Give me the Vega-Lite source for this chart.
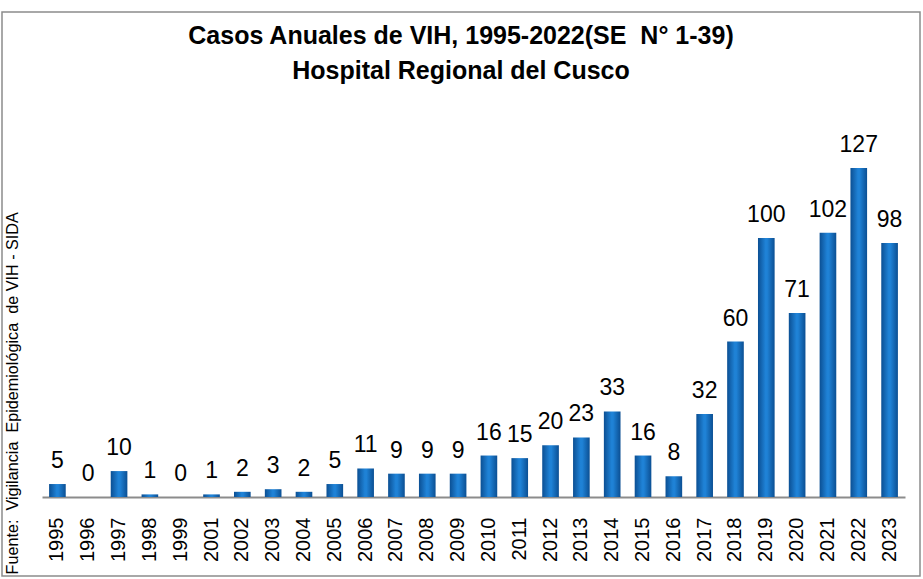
{
  "$schema": "https://vega.github.io/schema/vega-lite/v6.json",
  "width": 918,
  "height": 564,
  "autosize": {"type": "none"},
  "padding": {"left": 2, "top": 12, "right": 3, "bottom": 3},
  "background": "white",
  "title": {
    "text": ["Casos Anuales de VIH, 1995-2022(SE\u00a0 N° 1-39)", "Hospital Regional del Cusco"],
    "font": "Liberation Sans",
    "fontSize": 25,
    "fontWeight": "bold",
    "color": "#000000",
    "anchor": "middle",
    "frame": "group",
    "offset": -72,
    "lineHeight": 35
  },
  "config": {
    "view": {"stroke": "#8c8c8c", "strokeWidth": 1.5}
  },
  "data": {
    "values": [
      {"year": "1995", "cases": 5},
      {"year": "1996", "cases": 0},
      {"year": "1997", "cases": 10},
      {"year": "1998", "cases": 1},
      {"year": "1999", "cases": 0},
      {"year": "2001", "cases": 1},
      {"year": "2002", "cases": 2},
      {"year": "2003", "cases": 3},
      {"year": "2004", "cases": 2},
      {"year": "2005", "cases": 5},
      {"year": "2006", "cases": 11},
      {"year": "2007", "cases": 9},
      {"year": "2008", "cases": 9},
      {"year": "2009", "cases": 9},
      {"year": "2010", "cases": 16},
      {"year": "2011", "cases": 15},
      {"year": "2012", "cases": 20},
      {"year": "2013", "cases": 23},
      {"year": "2014", "cases": 33},
      {"year": "2015", "cases": 16},
      {"year": "2016", "cases": 8},
      {"year": "2017", "cases": 32},
      {"year": "2018", "cases": 60},
      {"year": "2019", "cases": 100},
      {"year": "2020", "cases": 71},
      {"year": "2021", "cases": 102},
      {"year": "2022", "cases": 127},
      {"year": "2023", "cases": 98}
    ]
  },
  "encoding": {
    "x": {
      "field": "year",
      "type": "nominal",
      "sort": null,
      "scale": {"range": [40, 903], "paddingInner": 0.46, "paddingOuter": 0.23},
      "axis": {
        "title": null,
        "orient": "bottom",
        "offset": -79,
        "labelAngle": -90,
        "labelAlign": "right",
        "labelBaseline": "middle",
        "labelPadding": 20,
        "labelFont": "Liberation Sans",
        "labelFontSize": 20,
        "labelColor": "#000000",
        "ticks": false,
        "domainColor": "#8c8c8c",
        "domainWidth": 2,
        "grid": false
      }
    },
    "y": {
      "field": "cases",
      "type": "quantitative",
      "scale": {"domain": [-30.5, 187.2], "nice": false, "zero": false},
      "axis": {
        "title": "Fuente:\u00a0 Vigilancia\u00a0 Epidemiológica\u00a0 de VIH - SIDA",
        "titleFont": "Liberation Sans",
        "titleFontSize": 16.2,
        "titleFontWeight": "normal",
        "titleColor": "#000000",
        "titleAngle": -90,
        "titleAlign": "left",
        "titleBaseline": "alphabetic",
        "titleX": 15,
        "titleY": 562,
        "labels": false,
        "ticks": false,
        "domain": false,
        "grid": false
      }
    }
  },
  "layer": [
    {
      "mark": {
        "type": "bar",
        "fill": {
          "gradient": "linear",
          "x1": 0, "x2": 1, "y1": 0, "y2": 0,
          "stops": [
            {"offset": 0, "color": "#0b4f93"},
            {"offset": 0.45, "color": "#1f82d6"},
            {"offset": 0.55, "color": "#1f82d6"},
            {"offset": 1, "color": "#0b4f93"}
          ]
        }
      },
      "encoding": {
        "y2": {"datum": 0}
      }
    },
    {
      "mark": {
        "type": "text",
        "font": "Liberation Sans",
        "fontSize": 23,
        "color": "#000000",
        "baseline": "alphabetic",
        "dy": -16
      },
      "encoding": {
        "text": {"field": "cases", "type": "quantitative"}
      }
    }
  ]
}
